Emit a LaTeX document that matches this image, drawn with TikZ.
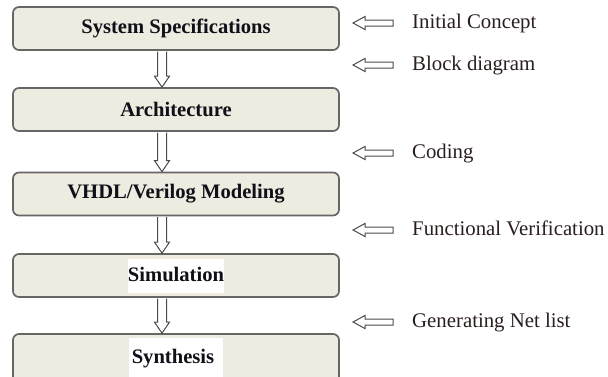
\documentclass[tikz,border=0pt]{standalone}
\usepackage{fontspec}
\setmainfont{Liberation Serif}
\usetikzlibrary{calc}
\definecolor{boxfill}{HTML}{EEEBE1}
\definecolor{boxline}{HTML}{666666}
\definecolor{arrline}{HTML}{4A4A4A}
\definecolor{boxtext}{HTML}{101018}
\definecolor{sidetext}{HTML}{2A1E1E}
\newcommand\blockdown[2]{%
  \draw[hollow] ($(#1.south)+(-18.5,-0.8)$) -- ($(#2.north)+(-18.5,11)$) -- ($(#2.north)+(-21.5,11)$)
    -- ($(#2.north)+(-14,0)$) -- ($(#2.north)+(-6.5,11)$) -- ($(#2.north)+(-9.5,11)$) -- ($(#1.south)+(-9.5,-0.8)$);}
\newcommand\sidearrow[1]{%
  \draw[hollow] ($(#1.base west)+(-19,8)$) -- ($(#1.base west)+(-47,8)$) -- ($(#1.base west)+(-47,11.5)$)
    -- ($(#1.base west)+(-59,5)$) -- ($(#1.base west)+(-47,-1.5)$) -- ($(#1.base west)+(-47,2)$)
    -- ($(#1.base west)+(-19,2)$) -- cycle;}
\begin{document}
\begin{tikzpicture}[x=1pt,y=1pt,
  stagebox/.style={draw=boxline, line width=1.7pt, fill=boxfill, rounded corners=6pt,
    minimum width=326pt, minimum height=43pt, inner sep=0pt,
    font=\fontsize{20.6}{24}\selectfont\bfseries, text=boxtext},
  sidelabel/.style={anchor=base west, inner sep=0pt, font=\fontsize{20.8}{24}\selectfont, text=sidetext},
  hollow/.style={draw=arrline, line width=1pt, fill=white, line join=miter}]
\useasboundingbox (0,0) rectangle (608,376);
\clip (0,0) rectangle (608,376);
\fill[white] (0,0) rectangle (608,376);
\setlength{\fboxsep}{0pt}
\node[stagebox] (spec) at (176,347.5) {System Specifications};
\node[stagebox] (arch) at (176,266.5) {Architecture};
\node[stagebox] (hdl) at (176,182) {VHDL/Verilog Modeling};
\node[stagebox] (sim) at (176,100.5) {\colorbox{white}{\rule[-11pt]{0pt}{34pt}Simulation}};
\node[stagebox, minimum height=58pt] (syn) at (176,13) {\colorbox{white}{\rule[-25pt]{0pt}{50pt}\hspace{3pt}Synthesis\hspace{9pt}}};
\blockdown{spec}{arch}
\blockdown{arch}{hdl}
\blockdown{hdl}{sim}
\blockdown{sim}{syn}
\node[sidelabel] (l1) at (412,348) {Initial Concept};
\node[sidelabel] (l2) at (412,306) {Block diagram};
\node[sidelabel] (l3) at (412,218) {Coding};
\node[sidelabel] (l4) at (412,141) {Functional Verification};
\node[sidelabel] (l5) at (412,49) {Generating Net list};
\sidearrow{l1}
\sidearrow{l2}
\sidearrow{l3}
\sidearrow{l4}
\sidearrow{l5}
\end{tikzpicture}
\end{document}
